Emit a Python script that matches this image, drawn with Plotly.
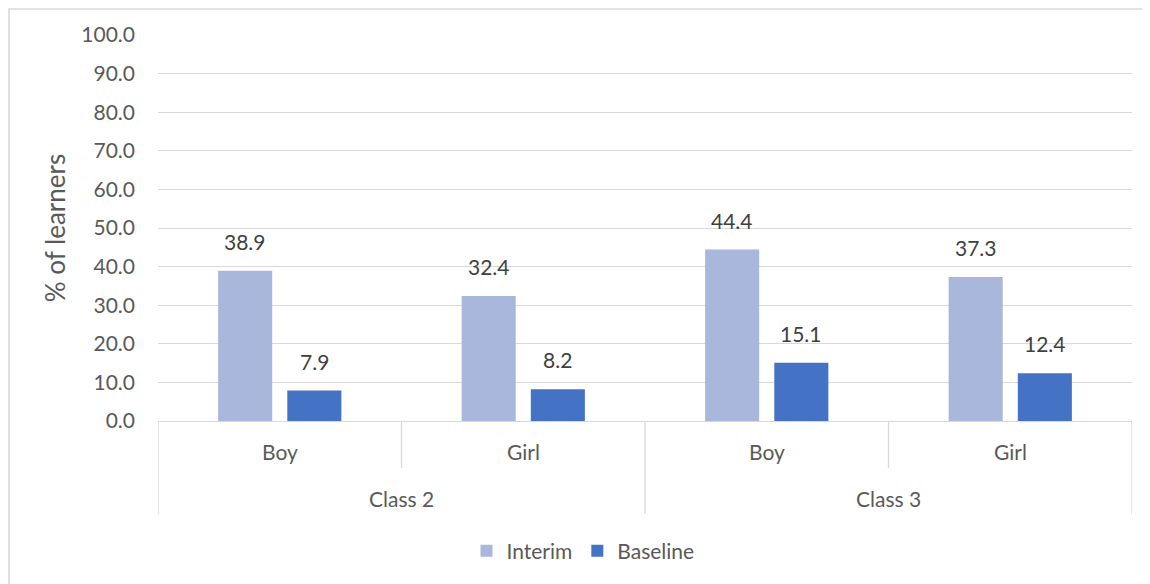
import plotly.graph_objects as go

# chart data
classes = ["Class 2", "Class 2", "Class 3", "Class 3"]
genders = ["Boy", "Girl", "Boy", "Girl"]
interim = [38.9, 32.4, 44.4, 37.3]
baseline = [7.9, 8.2, 15.1, 12.4]
series = ["Interim", "Baseline"]
colors = ["#A9B7DC", "#4472C4"]
yticks = list(range(0, 101, 10))

FONT = "Lato"
GRID = "#d9d9d9"
TEXT = "#595959"

W, H = 1150, 584
L, R, T, B = 150, 26, 27, 171
PW, PH = W - L - R, H - T - B

x = list(range(len(genders)))
bar_w = 0.222
half_gap = 0.031
offsets = [-half_gap - bar_w, half_gap]

fig = go.Figure()

for name, vals, col, off in zip(series, [interim, baseline], colors, offsets):
    fig.add_trace(go.Bar(
        x=x, y=vals, name=name, width=bar_w, offset=off,
        marker=dict(color=col, line=dict(width=0)),
        hovertemplate="%{y:.1f}<extra>" + name + "</extra>",
    ))
    # data labels above each bar
    for xi, v in zip(x, vals):
        fig.add_annotation(
            x=xi + off + bar_w / 2, y=v, text=f"{v:.1f}",
            showarrow=False, yanchor="bottom", yshift=15,
            font=dict(family=FONT, size=21, color="#404040"),
        )

# inner category labels (gender)
for xi, g in zip(x, genders):
    fig.add_annotation(
        x=xi, y=0, text=g, showarrow=False, yanchor="middle", yshift=-30,
        font=dict(family=FONT, size=21, color=TEXT),
    )

# outer category labels (class)
for c in dict.fromkeys(classes):
    idx = [i for i, cc in enumerate(classes) if cc == c]
    fig.add_annotation(
        x=sum(idx) / len(idx), y=0, text=c, showarrow=False, yanchor="middle", yshift=-77,
        font=dict(family=FONT, size=21, color=TEXT),
    )

# category dividers: short inside a class, long at class boundaries
for i in range(len(genders) + 1):
    inner = 0 < i < len(genders) and classes[i - 1] == classes[i]
    fig.add_shape(
        type="line", xref="x", yref="paper",
        x0=i - 0.5, x1=i - 0.5, y0=0, y1=-(47 if inner else 93) / PH,
        line=dict(color=GRID, width=1.3),
    )

# outer chart border (top and left edges visible)
fig.add_shape(
    type="rect", xref="paper", yref="paper",
    x0=(1 - L) / PW, x1=(W + 20 - L) / PW,
    y0=-(B + 20) / PH, y1=1 + (T - 1) / PH,
    line=dict(color=GRID, width=1.6), fillcolor="rgba(0,0,0,0)", layer="below",
)

fig.update_xaxes(
    range=[-0.5, len(genders) - 0.5], showticklabels=False, showgrid=False,
    zeroline=False, showline=True, linecolor=GRID, linewidth=1.3, fixedrange=True,
)
fig.update_yaxes(
    range=[0, 100], tickvals=yticks, tickformat=".1f", showgrid=True,
    gridcolor=GRID, gridwidth=1.3, zeroline=False, ticklabelstandoff=22,
    tickfont=dict(family=FONT, size=21, color=TEXT),
    title=dict(text="% of learners", font=dict(family=FONT, size=26, color=TEXT), standoff=8),
    fixedrange=True,
)

fig.update_layout(
    width=W, height=H,
    margin=dict(l=L, r=R, t=T, b=B),
    barmode="overlay",
    plot_bgcolor="white", paper_bgcolor="white",
    font=dict(family=FONT, color=TEXT),
    showlegend=True,
    legend=dict(
        orientation="h", xref="container", yref="container",
        x=0.5, y=0.07, xanchor="center", yanchor="middle",
        font=dict(family=FONT, size=21, color=TEXT), itemwidth=30,
        traceorder="normal",
    ),
)

fig.write_html("out.html")
